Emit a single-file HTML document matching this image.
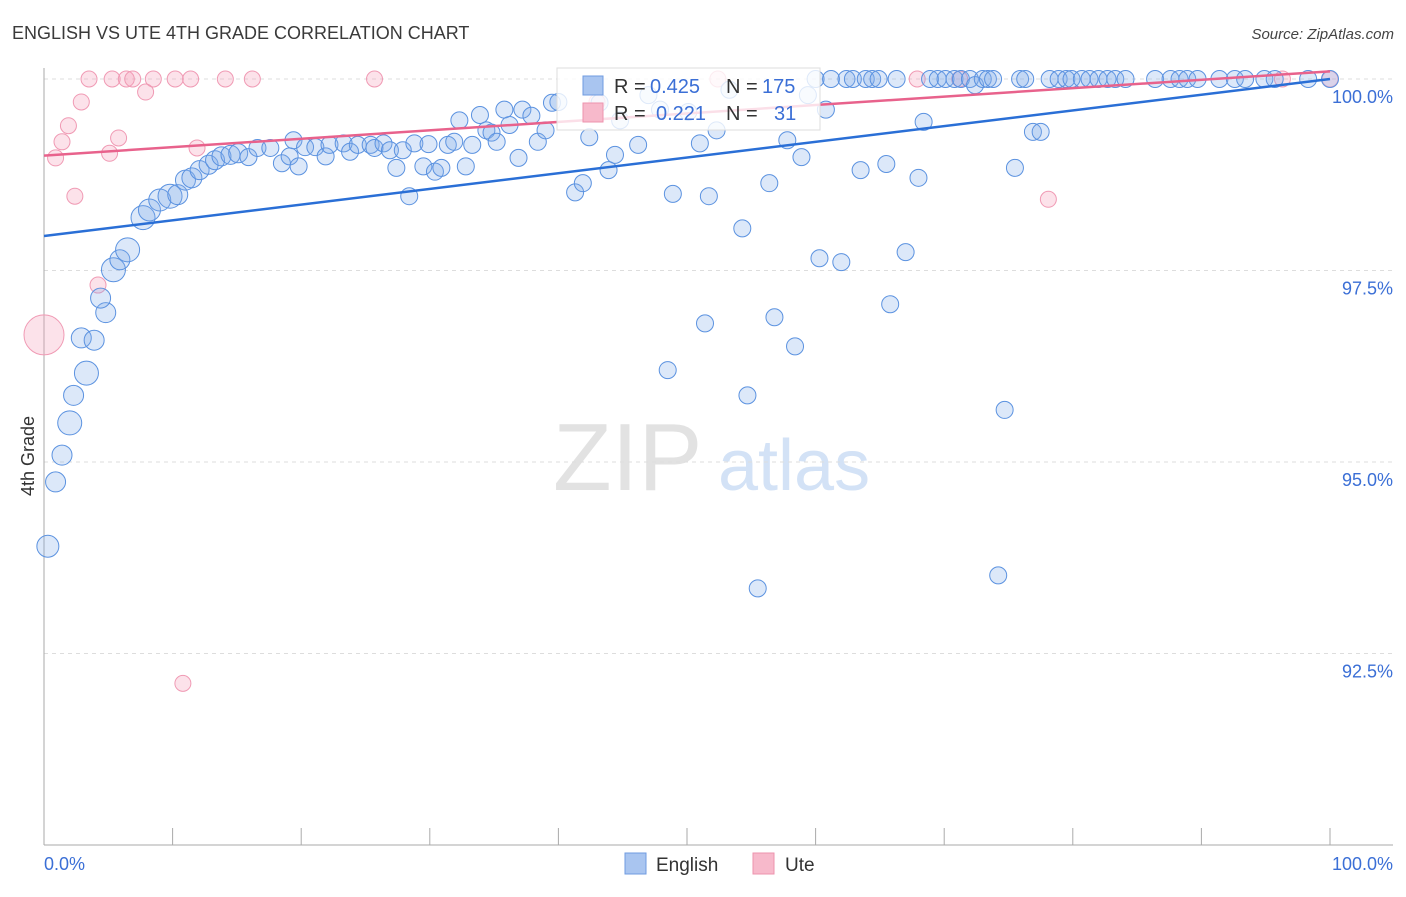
<!DOCTYPE html>
<html><head><meta charset="utf-8"><style>
body{margin:0;background:#fff;font-family:"Liberation Sans",sans-serif}
svg text{font-family:"Liberation Sans",sans-serif}
</style></head><body>
<svg id="c" width="1406" height="892" xmlns="http://www.w3.org/2000/svg">
<text x="12" y="39" font-size="18" fill="#3a3a3a">ENGLISH VS UTE 4TH GRADE CORRELATION CHART</text>
<text x="1394" y="39" font-size="15" fill="#444" font-style="italic" text-anchor="end">Source: ZipAtlas.com</text>
<text transform="translate(34,456) rotate(-90)" font-size="18" fill="#333" text-anchor="middle">4th Grade</text>
<g><text x="553" y="490" font-size="96" fill="#e2e2e2" font-family="Liberation Serif">ZIP</text><text x="718" y="490" font-size="72" fill="#d3e2f6">atlas</text></g>
<g id="grid"></g><g id="pts"></g><g id="lines"></g>
<g>
<rect x="557" y="68" width="263" height="62" fill="#fff" fill-opacity="0.8" stroke="#ddd"/>
<rect x="583" y="76" width="20" height="19" fill="#a9c5f0" stroke="#6f9be0"/>
<rect x="583" y="103" width="20" height="19" fill="#f7b9cb" stroke="#ee93ae"/>
<text x="614" y="93" font-size="20" fill="#333">R =</text>
<text x="650" y="93" font-size="20" fill="#3b6fd6">0.425</text>
<text x="726" y="93" font-size="20" fill="#333">N =</text>
<text x="762" y="93" font-size="20" fill="#3b6fd6">175</text>
<text x="614" y="120" font-size="20" fill="#333">R =</text>
<text x="656" y="120" font-size="20" fill="#3b6fd6">0.221</text>
<text x="726" y="120" font-size="20" fill="#333">N =</text>
<text x="774" y="120" font-size="20" fill="#3b6fd6">31</text>
</g>
<g>
<rect x="625" y="853" width="21" height="21" fill="#a9c5f0" stroke="#6f9be0"/>
<text x="656" y="871" font-size="19" fill="#333">English</text>
<rect x="753" y="853" width="21" height="21" fill="#f7b9cb" stroke="#ee93ae"/>
<text x="785" y="871" font-size="19" fill="#333">Ute</text>
</g>
</svg>
<script>
const blueX=[0.3,0.9,1.4,2.0,2.3,3.3,2.9,3.9,4.8,4.4,5.4,5.9,6.5,7.7,8.2,9.0,9.8,10.4,11.0,11.5,12.1,12.8,13.3,13.8,14.5,15.1,15.9,16.6,17.6,18.5,19.1,19.4,19.8,20.3,21.1,21.9,22.2,23.3,23.8,24.4,25.4,25.7,26.4,26.9,27.4,27.9,28.4,28.8,29.5,29.9,30.4,30.9,31.4,31.9,32.3,32.8,33.3,33.9,34.4,34.8,35.2,35.8,36.2,36.9,37.2,37.9,38.4,39.0,39.5,40.0,41.3,41.9,42.4,43.2,43.9,44.4,44.8,46.2,47.0,47.9,48.5,48.9,50.1,51.0,51.4,51.7,52.3,53.3,54.3,54.7,55.5,56.4,56.8,57.8,58.4,58.9,59.4,60.0,60.3,60.8,61.2,62.0,62.4,62.9,63.5,63.9,64.4,64.9,65.5,65.8,66.3,67.0,68.0,68.4,68.9,69.5,70.1,70.8,71.3,72.0,72.4,73.0,73.4,73.8,74.2,74.7,75.5,75.9,76.3,76.9,77.5,78.2,78.9,79.5,79.9,80.7,81.3,82.0,82.7,83.3,84.1,86.4,87.6,88.3,88.9,89.7,91.4,92.6,93.4,94.9,95.7,98.3,100];
const blueY=[93.90,94.74,95.09,95.51,95.87,96.16,96.62,96.59,96.95,97.14,97.51,97.64,97.77,98.19,98.29,98.42,98.47,98.49,98.68,98.71,98.81,98.88,98.94,98.99,99.01,99.03,98.98,99.10,99.10,98.90,98.99,99.20,98.86,99.11,99.11,98.99,99.14,99.16,99.05,99.14,99.14,99.10,99.16,99.07,98.84,99.07,98.47,99.16,98.86,99.15,98.79,98.84,99.14,99.18,99.46,98.86,99.14,99.53,99.33,99.30,99.18,99.60,99.40,98.97,99.60,99.52,99.18,99.33,99.69,99.70,98.52,98.64,99.24,99.69,98.81,99.01,99.46,99.14,99.79,99.60,96.20,98.50,99.57,99.16,96.81,98.47,99.33,99.86,98.05,95.87,93.35,98.64,96.89,99.20,96.51,98.98,99.79,100,97.66,99.60,100,97.61,100,100,98.81,100,100,100,98.89,97.06,100,97.74,98.71,99.44,100,100,100,100,100,100,99.92,100,100,100,93.52,95.68,98.84,100,100,99.31,99.31,100,100,100,100,100,100,100,100,100,100,100,100,100,100,100,100,100,100,100,100,100,100];
const blueR=[11,10,10,12,10,12,10,10,10,10,12,10,12,12,11,11,12,10,10,10,9.5,9.5,9.5,9.5,9.5,9.5];
const pinkX=[0,0.9,1.4,1.9,2.4,2.9,3.5,4.2,5.1,5.3,5.8,6.4,6.9,7.9,8.5,10.2,11.4,11.9,10.8,14.1,16.2,25.7,43.0,52.4,67.9,71.2,78.1,96.3,100];
const pinkY=[96.66,98.97,99.18,99.39,98.47,99.70,100,97.31,99.03,100,99.23,100,100,99.83,100,100,100,99.10,92.11,100,100,100,99.70,100,100,100,98.43,100,100];
const pinkR=[20];
const blueTrend=[97.95,100];
const pinkTrend=[99.0,100.1];
const yTicks=[100,97.5,95,92.5];
const yTickLabels=["100.0%","97.5%","95.0%","92.5%"];
const xTickVals=[0,10,20,30,40,50,60,70,80,90,100];
const xEndLabels=["0.0%","100.0%"];
const X=v=>44+v*12.86, Y=v=>79+(100-v)*76.6;
const NS="http://www.w3.org/2000/svg";
function mk(t,a,p){const e=document.createElementNS(NS,t);for(const k in a)e.setAttribute(k,a[k]);p.appendChild(e);return e;}
const g=document.getElementById('grid');
yTicks.forEach((v,i)=>{
 const l=mk('line',{x1:44,x2:1393,y1:Y(v),y2:Y(v),stroke:'#ddd','stroke-dasharray':'4,4'},g);
 
 
 const t=mk('text',{x:1393,y:Y(v)+24,'font-size':18,fill:'#3b6fd6','text-anchor':'end'},g);t.textContent=yTickLabels[i];
 
 
});
const ax=mk('line',{x1:44,x2:44,y1:68,y2:845,stroke:'#aaa'},g);


const bx=mk('line',{x1:44,x2:1393,y1:845,y2:845,stroke:'#aaa'},g);


xTickVals.forEach(v=>{const t=mk('line',{x1:X(v),x2:X(v),y1:828,y2:845,stroke:'#aaa'},g);
 
 });
[[0,'start',44],[1,'end',1393]].forEach(([i,a,x])=>{const t=mk('text',{x:x,y:870,'font-size':18,fill:'#3b6fd6','text-anchor':a},g);t.textContent=xEndLabels[i];
 
 });
const p=document.getElementById('pts');
pinkX.forEach((v,i)=>{const c=mk('circle',{cx:X(v),cy:Y(pinkY[i]),r:pinkR[i]||8,fill:'rgba(244,160,185,0.3)',stroke:'#f09ab4','stroke-width':1},p);
 
 });
blueX.forEach((v,i)=>{const c=mk('circle',{cx:X(v),cy:Y(blueY[i]),r:blueR[i]||8.5,fill:'rgba(130,172,232,0.28)',stroke:'#5b92e0','stroke-width':1},p);
 
 });
const L=document.getElementById('lines');
const b=mk('line',{x1:X(0),y1:Y(blueTrend[0]),x2:X(100),y2:Y(blueTrend[1]),stroke:'#2a6fd6','stroke-width':2.5},L);


const pk=mk('line',{x1:X(0),y1:Y(pinkTrend[0]),x2:X(100),y2:Y(pinkTrend[1]),stroke:'#e8628c','stroke-width':2.5},L);


</script>
</body></html>
